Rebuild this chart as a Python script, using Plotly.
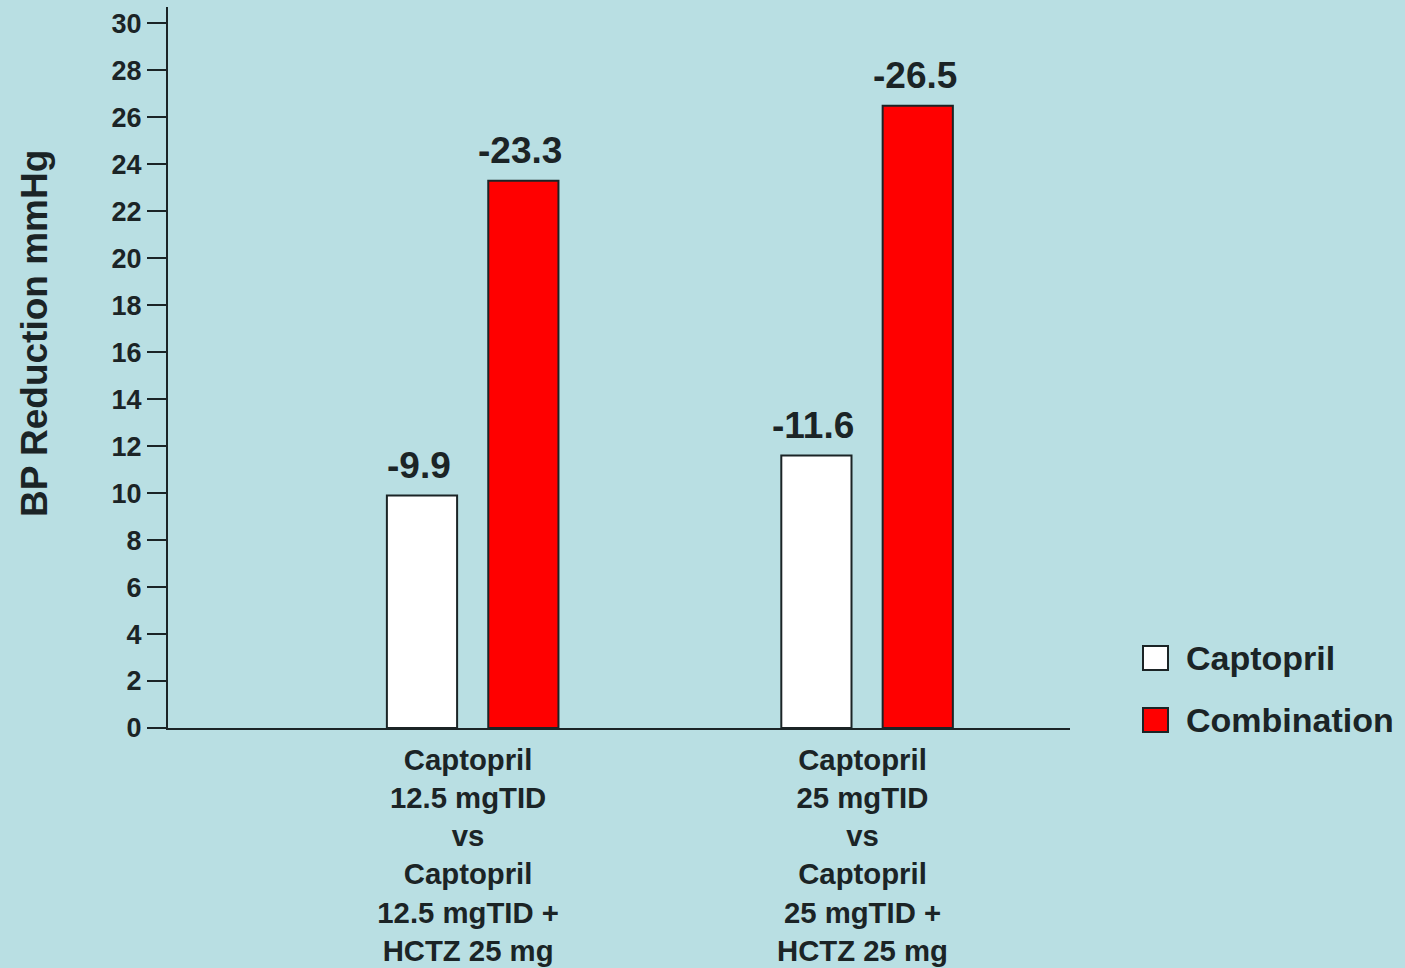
import plotly.graph_objects as go

# Data
categories = [
    "Captopril<br>12.5 mgTID<br>vs<br>Captopril<br>12.5 mgTID +<br>HCTZ 25 mg",
    "Captopril<br>25 mgTID<br>vs<br>Captopril<br>25 mgTID +<br>HCTZ 25 mg",
]
captopril = [9.9, 11.6]
combination = [23.3, 26.5]
series_names = ["Captopril", "Combination"]
y_ticks = list(range(0, 31, 2))
y_title = "BP Reduction mmHg"

# Styling
BG = "#b9dfe3"
INK = "#1b2426"
RED = "#ff0000"
WHITE = "#ffffff"
FONT = "Liberation Sans"

W, H = 1405, 968
ML, MR, MT, MB = 168, 335, 7, 240
PW, PH = W - ML - MR, H - MT - MB


def px_x(px):
    return (px - ML) / PW


def px_y(py):
    return (H - MB - py) / PH


x_pos = list(range(len(categories)))
bar_w = 0.178
offsets = [-0.216, 0.041]

fig = go.Figure()
for name, vals, color, off in [
    (series_names[0], captopril, WHITE, offsets[0]),
    (series_names[1], combination, RED, offsets[1]),
]:
    fig.add_trace(go.Bar(
        x=x_pos, y=vals, name=name,
        width=bar_w, offset=off,
        marker=dict(color=color, line=dict(color=INK, width=2)),
        showlegend=False,
    ))
    # value labels above bars
    for xi, v in zip(x_pos, vals):
        fig.add_annotation(
            x=xi + off + bar_w / 2, y=v, xref="x", yref="y",
            text=f"-{v:.1f}", showarrow=False,
            yanchor="bottom", yshift=8, xshift=-3,
            font=dict(family=FONT, size=37, color=INK, weight="bold"),
        )

# legend drawn with swatches and labels
legend_rows = [(series_names[0], WHITE, 658), (series_names[1], RED, 720)]
for label, color, yc in legend_rows:
    fig.add_shape(
        type="rect", xref="paper", yref="paper",
        x0=px_x(1143), x1=px_x(1168),
        y0=px_y(yc + 12), y1=px_y(yc - 12),
        fillcolor=color, line=dict(color=INK, width=2),
    )
    fig.add_annotation(
        xref="paper", yref="paper",
        x=px_x(1184), y=px_y(yc),
        text=label, showarrow=False, xanchor="left", yanchor="middle",
        font=dict(family=FONT, size=34, color=INK, weight="bold"),
    )

# y-axis title
fig.add_annotation(
    xref="paper", yref="paper", x=px_x(34), y=px_y(334),
    text=y_title, textangle=-90, showarrow=False,
    xanchor="center", yanchor="middle",
    font=dict(family=FONT, size=37, color=INK, weight="bold"),
)

fig.update_layout(
    width=W, height=H,
    margin=dict(l=ML, r=MR, t=MT, b=MB, autoexpand=False),
    paper_bgcolor=BG, plot_bgcolor=BG,
    barmode="overlay",
    font=dict(family=FONT, color=INK),
    xaxis=dict(
        range=[-0.771, 1.516],
        tickmode="array", tickvals=x_pos, ticktext=categories,
        showgrid=False, zeroline=False, automargin=False,
        showline=True, linecolor=INK, linewidth=2,
        ticks="", ticklabelstandoff=5, ticklabelshift=-4,
        tickfont=dict(family=FONT, size=29.3, color=INK, weight="bold"),
        fixedrange=True,
    ),
    yaxis=dict(
        range=[0, 30.7],
        tickmode="array", tickvals=y_ticks, automargin=False,
        showgrid=False, zeroline=False,
        showline=True, linecolor=INK, linewidth=2,
        ticks="outside", ticklen=19, tickwidth=2, tickcolor=INK,
        tickfont=dict(family=FONT, size=27, color=INK, weight="bold"),
    ),
)

fig.write_html("out.html")
